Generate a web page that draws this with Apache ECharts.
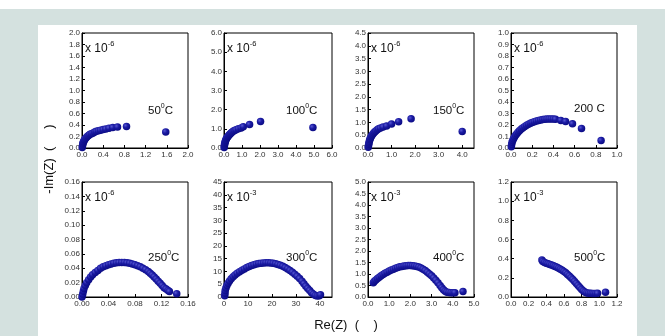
<!DOCTYPE html>
<html><head><meta charset="utf-8">
<script src="https://cdn.jsdelivr.net/npm/echarts@6/dist/echarts.min.js"></script>
<style>html,body{margin:0;padding:0;background:#fff;}#c{width:665px;height:336px;}</style>
</head><body><div id="c"></div>
<script>
// ---- data (Re(Z), -Im(Z)) ----
var s50 = [[0.005,0.01],[0.01,0.04],[0.015,0.07],[0.02,0.09],[0.03,0.11],[0.04,0.13],[0.05,0.15],[0.07,0.17],[0.09,0.19],[0.11,0.21],[0.13,0.22],[0.15,0.24],[0.18,0.25],[0.21,0.26],[0.24,0.28],[0.27,0.29],[0.31,0.30],[0.35,0.31],[0.40,0.32],[0.45,0.33],[0.51,0.345],[0.58,0.355],[0.67,0.365],[0.84,0.375],[1.58,0.28]];
var s100 = [[0.01,0.03],[0.02,0.1],[0.03,0.17],[0.04,0.24],[0.06,0.3],[0.08,0.36],[0.1,0.42],[0.13,0.48],[0.16,0.53],[0.2,0.58],[0.24,0.63],[0.28,0.68],[0.33,0.72],[0.38,0.77],[0.44,0.82],[0.51,0.87],[0.58,0.91],[0.67,0.95],[0.8,1.0],[0.95,1.05],[1.07,1.11],[1.42,1.22],[2.03,1.38],[4.94,1.07]];
var s150 = [[0.01,0.03],[0.02,0.09],[0.03,0.15],[0.04,0.21],[0.06,0.27],[0.08,0.33],[0.1,0.38],[0.13,0.44],[0.16,0.49],[0.2,0.54],[0.24,0.59],[0.28,0.63],[0.33,0.67],[0.39,0.71],[0.45,0.75],[0.53,0.78],[0.64,0.82],[0.79,0.86],[1.0,0.94],[1.3,1.03],[1.83,1.14],[4.0,0.65]];
var s200 = [[0.003,0.01],[0.006,0.03],[0.01,0.05],[0.016,0.065],[0.024,0.08],[0.033,0.095],[0.043,0.11],[0.055,0.125],[0.068,0.14],[0.082,0.153],[0.097,0.165],[0.113,0.177],[0.13,0.188],[0.147,0.198],[0.165,0.207],[0.183,0.215],[0.2,0.222],[0.22,0.229],[0.24,0.235],[0.26,0.24],[0.28,0.244],[0.3,0.247],[0.32,0.25],[0.34,0.252],[0.36,0.253],[0.38,0.253],[0.4,0.252],[0.42,0.25],[0.47,0.24],[0.515,0.23],[0.58,0.21],[0.665,0.17],[0.85,0.065]];
var s250 = [[0,0],[0.001,0.004],[0.002,0.008],[0.003,0.012],[0.005,0.016],[0.007,0.02],[0.01,0.024],[0.013,0.028],[0.016,0.031],[0.02,0.034],[0.024,0.037],[0.028,0.04],[0.032,0.042],[0.036,0.0435],[0.04,0.045],[0.044,0.046],[0.048,0.047],[0.052,0.0475],[0.056,0.048],[0.06,0.048],[0.064,0.048],[0.068,0.0475],[0.072,0.047],[0.076,0.046],[0.08,0.045],[0.084,0.0435],[0.088,0.042],[0.092,0.04],[0.096,0.038],[0.1,0.0355],[0.103,0.033],[0.106,0.0305],[0.109,0.028],[0.112,0.025],[0.115,0.022],[0.118,0.019],[0.121,0.016],[0.124,0.013],[0.127,0.011],[0.13,0.009],[0.132,0.0075],[0.143,0.0046]];
var s300 = [[0.3,0.5],[0.4,1.5],[0.5,2.5],[0.8,3.5],[1.2,4.5],[1.7,5.4],[2.3,6.3],[3,7.1],[3.8,7.9],[4.6,8.6],[5.5,9.3],[6.5,9.9],[7.5,10.5],[8.5,11],[9.5,11.5],[10.5,11.9],[11.5,12.3],[12.5,12.6],[13.5,12.9],[14.5,13.1],[15.5,13.2],[16.5,13.3],[17.5,13.4],[18.5,13.4],[19.5,13.3],[20.5,13.2],[21.5,13],[22.5,12.7],[23.5,12.4],[24.5,12],[25.5,11.5],[26.5,11],[27.5,10.4],[28.5,9.7],[29.5,8.9],[30.5,8.1],[31.5,7.2],[32.5,6.2],[33.3,5.2],[34.1,4.2],[34.9,3.3],[35.7,2.5],[36.5,1.7],[37.3,1.1],[38.1,0.6],[38.9,0.4],[39.7,0.5],[40.2,0.9]];
var s400 = [[0.25,0.62],[0.3,0.68],[0.37,0.74],[0.45,0.8],[0.53,0.86],[0.62,0.92],[0.71,0.98],[0.8,1.03],[0.9,1.08],[1.0,1.13],[1.1,1.17],[1.2,1.21],[1.3,1.25],[1.4,1.28],[1.5,1.31],[1.6,1.33],[1.7,1.35],[1.8,1.36],[1.9,1.37],[2.0,1.37],[2.1,1.36],[2.2,1.35],[2.3,1.33],[2.4,1.3],[2.5,1.26],[2.6,1.21],[2.7,1.15],[2.8,1.08],[2.9,1.0],[3.0,0.92],[3.1,0.83],[3.2,0.73],[3.3,0.62],[3.4,0.5],[3.48,0.4],[3.56,0.31],[3.64,0.25],[3.72,0.21],[3.82,0.2],[3.92,0.19],[4.02,0.19],[4.1,0.19],[4.48,0.24]];
var s500 = [[0.35,0.385],[0.36,0.37],[0.38,0.36],[0.4,0.352],[0.42,0.346],[0.44,0.34],[0.46,0.333],[0.48,0.326],[0.5,0.318],[0.52,0.31],[0.54,0.3],[0.56,0.29],[0.58,0.278],[0.6,0.266],[0.62,0.252],[0.64,0.236],[0.66,0.22],[0.68,0.202],[0.7,0.183],[0.72,0.163],[0.74,0.142],[0.76,0.12],[0.78,0.098],[0.8,0.078],[0.82,0.062],[0.84,0.05],[0.86,0.043],[0.88,0.04],[0.9,0.038],[0.92,0.037],[0.94,0.037],[0.96,0.037],[0.98,0.038],[1.07,0.05]];

var temps = ['50', '100', '150', '200', '250', '300', '400', '500'];
var exponents = ['-6', '-6', '-6', '-6', '-6', '-3', '-3', '-3'];
var xMax = [2, 6, 4.5, 1, 0.16, 45, 5, 1.2];
var xStep = [0.4, 1, 1, 0.2, 0.04, 10, 1, 0.2];
var xDec = [1, 1, 1, 1, 2, 0, 1, 1];
var yMax = [2, 6, 4.5, 1, 0.16, 45, 5, 1.2];
var yStep = [0.2, 1, 0.5, 0.1, 0.02, 5, 0.5, 0.2];
var yDec = [1, 1, 1, 1, 2, 0, 1, 1];
var seriesData = [s50, s100, s150, s200, s250, s300, s400, s500];

// ---- layout ----
var lefts = [82, 224, 368, 511];
var widths = [106, 108, 106, 106];
var tops = [33, 182];
var H = 115;

var FONT = 'Liberation Sans, Arial, sans-serif';
var grids = [], xAxes = [], yAxes = [], series = [], graphics = [];

graphics.push({type:'rect', shape:{x:0,y:9,width:665,height:327}, style:{fill:'#d4e1df'}, silent:true, z:-10});
graphics.push({type:'rect', shape:{x:38,y:25,width:599,height:311}, style:{fill:'#ffffff'}, silent:true, z:-9});

var dot = {
  type:'radial', x:0.35, y:0.35, r:0.7,
  colorStops:[{offset:0,color:'#5656d2'},{offset:0.45,color:'#1a1aa2'},{offset:1,color:'#0a0a82'}]
};

for (var i = 0; i < 8; i++) {
  var r = Math.floor(i / 4), c = i % 4;
  grids.push({left:lefts[c], top:tops[r], width:widths[c], height:H, show:true, borderColor:'#000', borderWidth:1, backgroundColor:'transparent'});
  (function(i){
    xAxes.push({type:'value', gridIndex:i, min:0, max:xMax[i], interval:xStep[i],
      axisLine:{show:true, onZero:false, lineStyle:{color:'#000', width:1}},
      axisTick:{show:true, inside:true, length:3, lineStyle:{color:'#000'}},
      splitLine:{show:false},
      axisLabel:{fontSize:8, color:'#333', fontFamily:FONT, margin:3, showMaxLabel:(i===2||i===5)?false:true,
        formatter:function(v){return v.toFixed(xDec[i]);}}
    });
    yAxes.push({type:'value', gridIndex:i, min:0, max:yMax[i], interval:yStep[i],
      axisLine:{show:true, onZero:false, lineStyle:{color:'#000', width:1}},
      axisTick:{show:true, inside:true, length:3, lineStyle:{color:'#000'}},
      splitLine:{show:false},
      axisLabel:{fontSize:8, color:'#333', fontFamily:FONT, margin:2,
        formatter:function(v){return v.toFixed(yDec[i]);}}
    });
  })(i);
  series.push({type:'scatter', xAxisIndex:i, yAxisIndex:i, data:seriesData[i], symbolSize:7.5,
    itemStyle:{color:dot, opacity:1}, silent:true, animation:false, clip:false});

  graphics.push({type:'text', left:lefts[c]+3, top:tops[r]+7, silent:true,
    style:{text:'{a|x 10}{s|' + exponents[i] + '}', rich:{
      a:{fontSize:12, fontFamily:FONT, fill:'#111', lineHeight:15, verticalAlign:'bottom'},
      s:{fontSize:7.5, fontFamily:FONT, fill:'#111', lineHeight:15, verticalAlign:'top'}}}});
  var tOff = [66, 62, 65, 63][c];
  var tempTxt = (i === 3) ? '{a|200 C}' : '{a|' + temps[i] + '}{s|0}{a|C}';
  graphics.push({type:'text', left:lefts[c]+tOff, top:tops[r]+(r===0?70:68), silent:true,
    style:{text:tempTxt, rich:{
      a:{fontSize:11.5, fontFamily:FONT, fill:'#111', lineHeight:14, verticalAlign:'bottom'},
      s:{fontSize:7, fontFamily:FONT, fill:'#111', lineHeight:14, verticalAlign:'top'}}}});
}

graphics.push({type:'text', x:49, y:159, rotation:Math.PI/2, silent:true,
  style:{text:'-Im(Z)  (     )', fontSize:13, fontFamily:FONT, fill:'#111', align:'center', verticalAlign:'middle'}});
graphics.push({type:'text', x:346, y:325, silent:true,
  style:{text:'Re(Z)  (    )', fontSize:13, fontFamily:FONT, fill:'#111', align:'center', verticalAlign:'middle'}});

var chart = echarts.init(document.getElementById('c'), null, {renderer:'canvas'});
chart.setOption({animation:false, grid:grids, xAxis:xAxes, yAxis:yAxes, series:series, graphic:graphics});
</script></body></html>
